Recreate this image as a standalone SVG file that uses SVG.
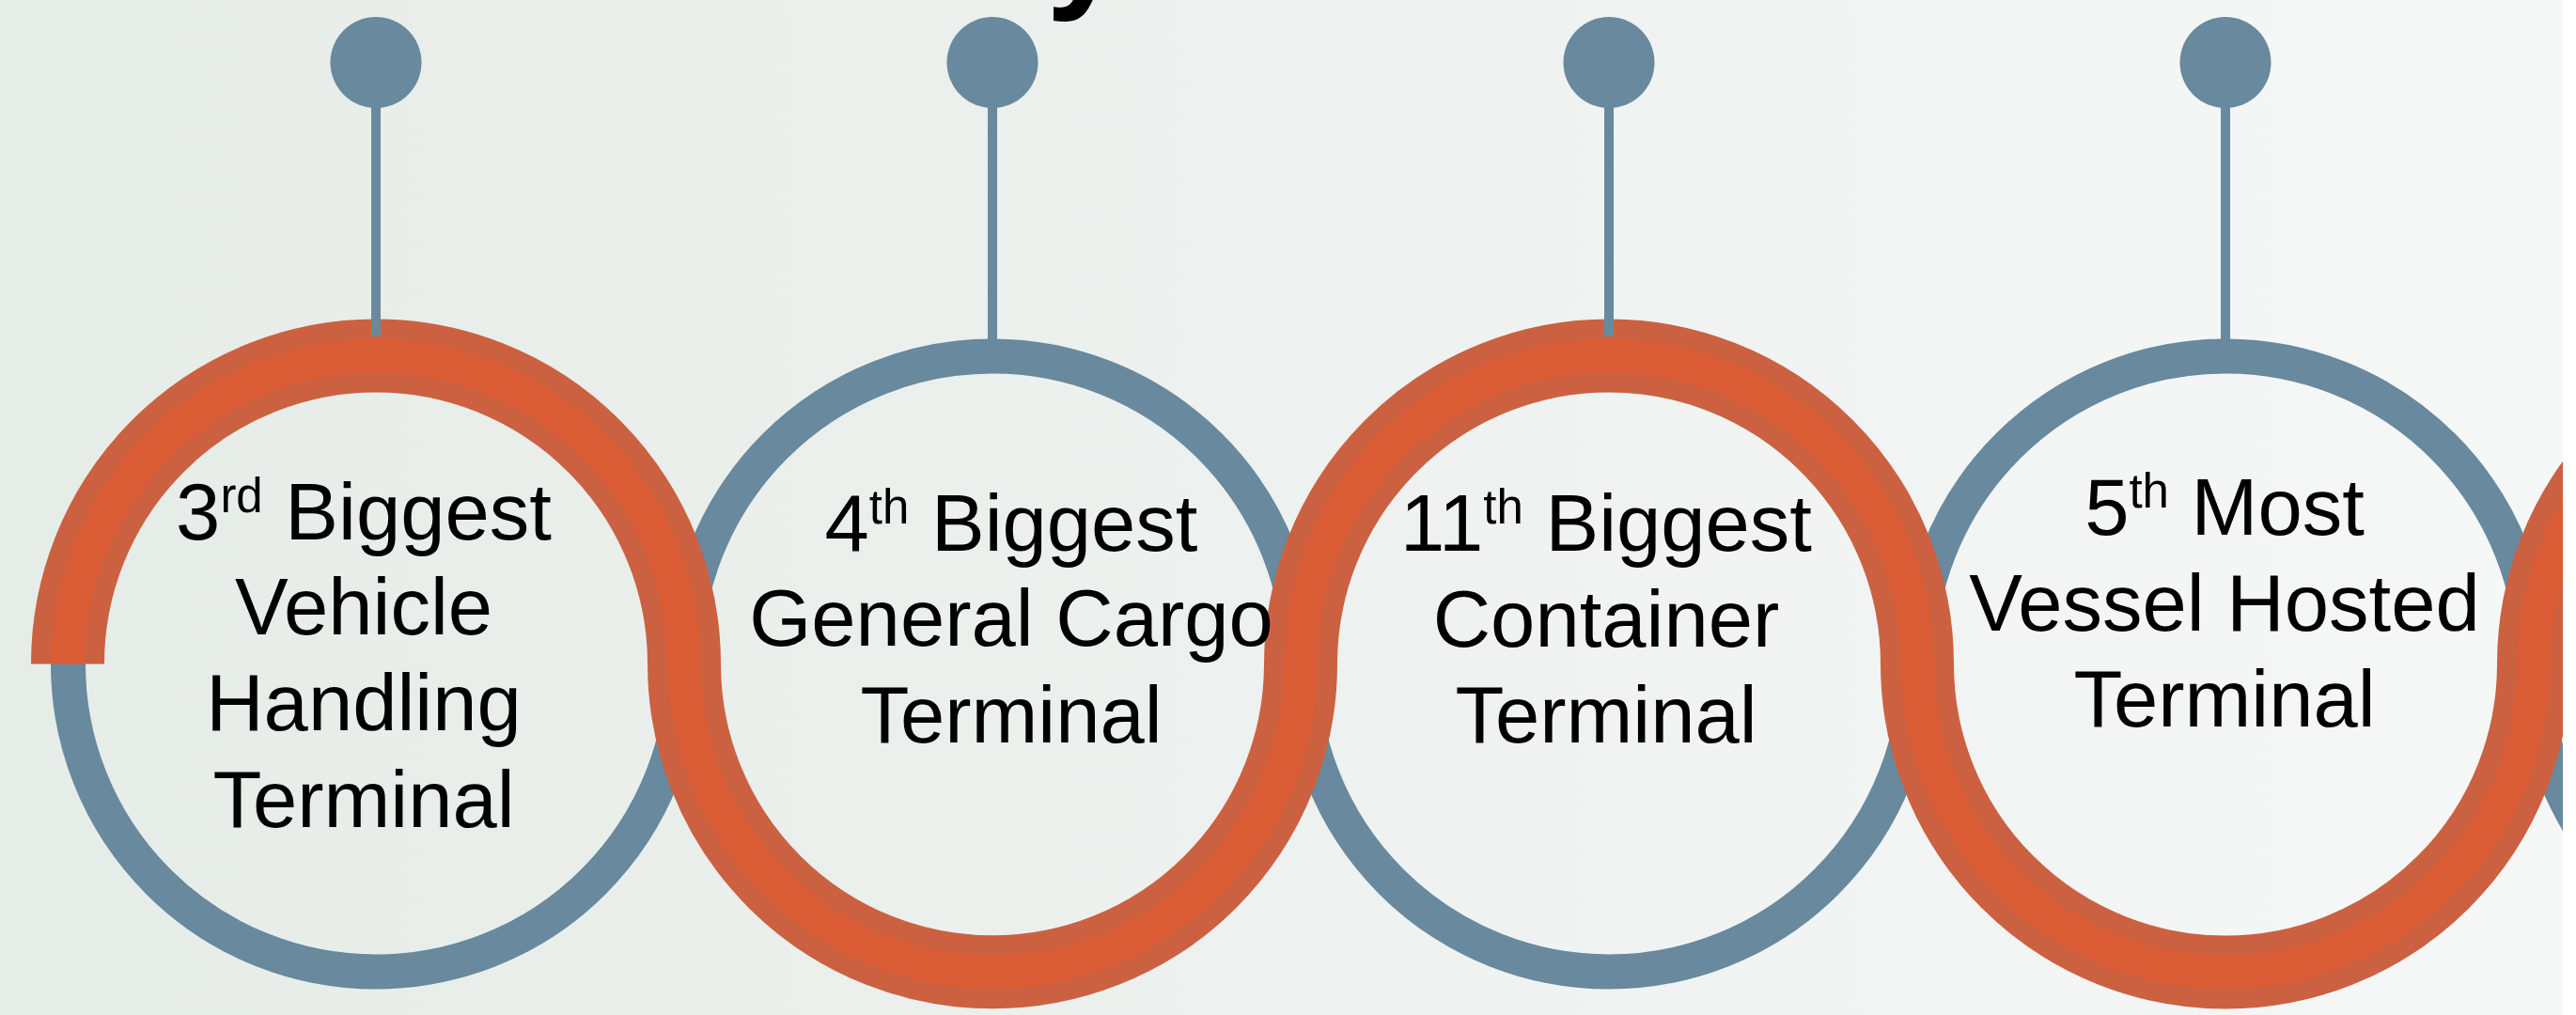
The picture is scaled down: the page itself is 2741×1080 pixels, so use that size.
<svg xmlns="http://www.w3.org/2000/svg" width="2741" height="1080" viewBox="0 0 2741 1080">
  <defs>
    <linearGradient id="bg" x1="0" y1="0" x2="1" y2="0">
      <stop offset="0" stop-color="#E6ECE7"/>
      <stop offset="0.5" stop-color="#EDF1EF"/>
      <stop offset="1" stop-color="#F6F8F8"/>
    </linearGradient>
    <clipPath id="clipR">
      <rect x="0" y="0" width="2727" height="1080"/>
    </clipPath>
    <style>
      .ring { fill: none; stroke: #68899E; stroke-width: 37; }
      .stem { stroke: #68899E; stroke-width: 10; }
      .pin { fill: #68899E; }
      .bandOuter { fill: none; stroke: #CB6141; stroke-width: 78; }
      .bandInner { fill: none; stroke: #DA5D36; stroke-width: 36; }
      .label { font-family: "Liberation Sans", Arial, sans-serif; font-size: 85px; fill: #000; text-anchor: middle; }
      .sup { font-size: 51px; }
    </style>
  </defs>

  <rect x="0" y="0" width="2741" height="1080" fill="url(#bg)"/>
  <rect x="2727" y="0" width="14" height="1080" fill="#FFFFFF"/>

  <text x="1155" y="-8" font-family="Liberation Sans, Arial, sans-serif" font-weight="bold" font-size="150" text-anchor="middle" fill="#000">y</text>

  <g id="rings" clip-path="url(#clipR)">
    <circle class="ring" cx="400" cy="706.5" r="327.5"/>
    <circle class="ring" cx="1056" cy="706.5" r="327.5"/>
    <circle class="ring" cx="1712" cy="706.5" r="327.5"/>
    <circle class="ring" cx="2368" cy="706.5" r="327.5"/>
    <circle class="ring" cx="3024" cy="706.5" r="327.5"/>
  </g>

  <g id="connectors" clip-path="url(#clipR)">
    <path class="bandOuter" d="M72,706.5 A328,328 0 0 1 728,706.5 A328,328 0 0 0 1384,706.5 A328,328 0 0 1 2040,706.5 A328,328 0 0 0 2696,706.5 A328,328 0 0 1 3352,706.5"/>
    <path class="bandInner" d="M72,706.5 A328,328 0 0 1 728,706.5 A328,328 0 0 0 1384,706.5 A328,328 0 0 1 2040,706.5 A328,328 0 0 0 2696,706.5 A328,328 0 0 1 3352,706.5"/>
  </g>

  <g id="node-1">
    <line class="stem" x1="400" y1="110" x2="400" y2="358"/>
    <circle class="pin" cx="400" cy="66.5" r="48.5"/>
    <text class="label" x="387" y="574">3<tspan class="sup" dy="-29">rd</tspan><tspan dy="29"> Biggest</tspan></text>
    <text class="label" x="387" y="675">Vehicle</text>
    <text class="label" x="387" y="777">Handling</text>
    <text class="label" x="387" y="880">Terminal</text>
  </g>

  <g id="node-2">
    <line class="stem" x1="1056" y1="110" x2="1056" y2="362"/>
    <circle class="pin" cx="1056" cy="66.5" r="48.5"/>
    <text class="label" x="1076" y="586">4<tspan class="sup" dy="-29">th</tspan><tspan dy="29"> Biggest</tspan></text>
    <text class="label" x="1076" y="687">General Cargo</text>
    <text class="label" x="1076" y="790">Terminal</text>
  </g>

  <g id="node-3">
    <line class="stem" x1="1712" y1="110" x2="1712" y2="358"/>
    <circle class="pin" cx="1712" cy="66.5" r="48.5"/>
    <text class="label" x="1709" y="586">11<tspan class="sup" dy="-29">th</tspan><tspan dy="29"> Biggest</tspan></text>
    <text class="label" x="1709" y="688">Container</text>
    <text class="label" x="1709" y="790">Terminal</text>
  </g>

  <g id="node-4">
    <line class="stem" x1="2368" y1="110" x2="2368" y2="362"/>
    <circle class="pin" cx="2368" cy="66.5" r="48.5"/>
    <text class="label" x="2367" y="569">5<tspan class="sup" dy="-29">th</tspan><tspan dy="29"> Most</tspan></text>
    <text class="label" x="2367" y="671">Vessel Hosted</text>
    <text class="label" x="2367" y="773">Terminal</text>
  </g>
</svg>
